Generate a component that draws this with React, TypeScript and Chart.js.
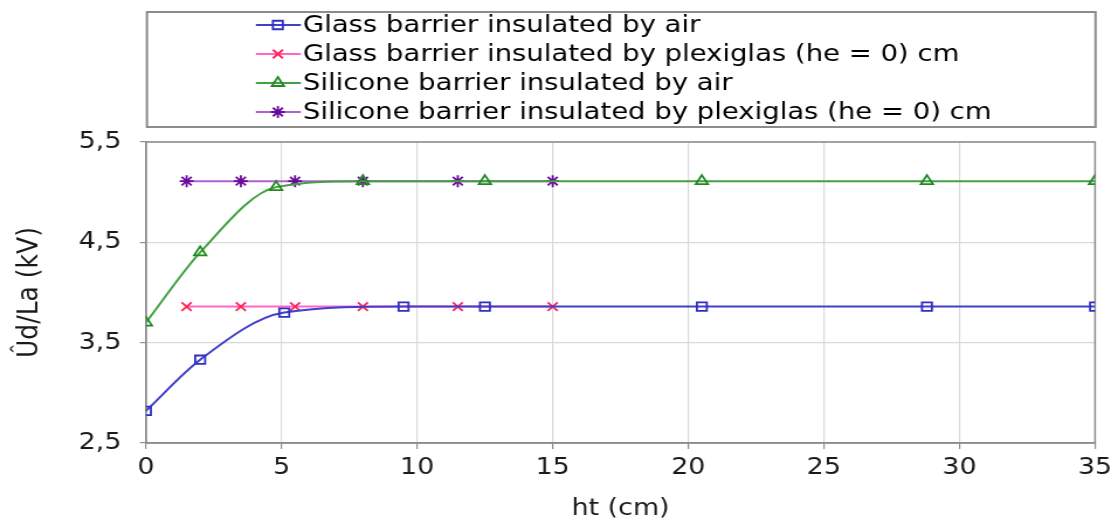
import React, { useEffect, useRef } from 'react';
import { Chart, registerables } from 'chart.js';
import { drawPoint } from 'chart.js/helpers';

Chart.register(...registerables);

// Series (x = ht in cm, y = Ûd/La in kV)
const seriesNames = [
  'Glass barrier insulated by air',
  'Glass barrier insulated by plexiglas (he = 0) cm',
  'Silicone barrier insulated by air',
  'Silicone barrier insulated by plexiglas (he = 0) cm',
];

const glassAirX = [0, 2, 5.1, 9.5, 12.5, 20.5, 28.8, 35];
const glassAirY = [2.82, 3.33, 3.8, 3.86, 3.86, 3.86, 3.86, 3.86];

const glassPlexiX = [1.5, 3.5, 5.5, 8, 11.5, 15];
const glassPlexiY = [3.86, 3.86, 3.86, 3.86, 3.86, 3.86];

const siliconeAirX = [0, 2, 4.8, 8, 12.5, 20.5, 28.8, 35];
const siliconeAirY = [3.7, 4.4, 5.05, 5.11, 5.11, 5.11, 5.11, 5.11];

const siliconePlexiX = [1.5, 3.5, 5.5, 8, 11.5, 15];
const siliconePlexiY = [5.11, 5.11, 5.11, 5.11, 5.11, 5.11];

const yTicks = [2.5, 3.5, 4.5, 5.5];
const xTicks = [0, 5, 10, 15, 20, 25, 30, 35];

// Canvas is laid out narrower and widened by CSS, giving the broad lettering.
const OUT_W = 1118;
const OUT_H = 523;
const STRETCH = 1.17;
const IN_W = Math.round(OUT_W / STRETCH);
const px = (x: number) => x / STRETCH;

const FONT = '"DejaVu Sans", Verdana, sans-serif';
const GRID = '#d9d9d9';
const FRAME = '#8c8c8c';
const TEXT = '#1a1a1a';

const toPoints = (xs: number[], ys: number[]) => xs.map((x, i) => ({ x, y: ys[i] }));

const legendBox = {
  id: 'legendBox',
  afterDraw(chart: any) {
    const ctx = chart.ctx;
    const rows = [25, 54, 83, 112];
    ctx.save();
    ctx.strokeStyle = FRAME;
    ctx.lineWidth = 2;
    const left = px(147);
    const right = px(1096);
    ctx.strokeRect(left, 12, right - left, 115);
    chart.data.datasets.forEach((ds: any, i: number) => {
      const y = rows[i];
      ctx.strokeStyle = ds.borderColor;
      ctx.lineWidth = 2;
      ctx.beginPath();
      ctx.moveTo(px(256), y);
      ctx.lineTo(px(301), y);
      ctx.stroke();
      ctx.strokeStyle = ds.pointBorderColor;
      ctx.fillStyle = 'rgba(255,255,255,0)';
      ctx.lineWidth = ds.pointBorderWidth;
      drawPoint(ctx, { pointStyle: ds.pointStyle, radius: ds.pointRadius, rotation: 0, borderWidth: ds.pointBorderWidth }, px(278), y);
      ctx.fillStyle = '#000';
      ctx.font = `23.5px ${FONT}`;
      ctx.textBaseline = 'middle';
      ctx.textAlign = 'left';
      ctx.fillText(ds.label, px(303), y + 1);
    });
    ctx.restore();
  },
};

const plotFrame = {
  id: 'plotFrame',
  beforeDatasetsDraw(chart: any) {
    const { ctx, chartArea: a } = chart;
    ctx.save();
    ctx.strokeStyle = FRAME;
    ctx.lineWidth = 1.5;
    ctx.strokeRect(a.left, a.top, a.right - a.left, a.bottom - a.top);
    ctx.restore();
  },
};

export default function App() {
  const canvasRef = useRef<HTMLCanvasElement | null>(null);

  useEffect(() => {
    const canvas = canvasRef.current;
    if (!canvas) return;

    const line = (
      label: string,
      data: { x: number; y: number }[],
      lineColor: string,
      markColor: string,
      pointStyle: string,
      radius: number,
    ) => ({
      label,
      data,
      borderColor: lineColor,
      borderWidth: 2,
      pointStyle,
      pointRadius: radius,
      pointBorderColor: markColor,
      pointBackgroundColor: 'rgba(255,255,255,0)',
      pointBorderWidth: 1.8,
      cubicInterpolationMode: 'monotone',
      fill: false,
    });

    const chart = new Chart(canvas, {
      type: 'line',
      data: {
        datasets: [
          line(seriesNames[0], toPoints(glassAirX, glassAirY), '#4040c8', '#3030c0', 'rect', 6),
          line(seriesNames[1], toPoints(glassPlexiX, glassPlexiY), '#ff66cc', '#ff2255', 'crossRot', 6),
          line(seriesNames[2], toPoints(siliconeAirX, siliconeAirY), '#44a044', '#228822', 'triangle', 6),
          line(seriesNames[3], toPoints(siliconePlexiX, siliconePlexiY), '#b060d0', '#6a0a9a', 'star', 6),
        ] as any,
      },
      options: {
        responsive: false,
        maintainAspectRatio: false,
        devicePixelRatio: 1,
        animation: false,
        layout: { padding: { top: 142, left: 0, right: IN_W - px(1097), bottom: 0 } },
        plugins: {
          legend: { display: false },
          tooltip: { enabled: false },
        },
        scales: {
          x: {
            type: 'linear',
            min: 0,
            max: 35,
            afterBuildTicks: (scale: any) => {
              scale.ticks = xTicks.map((v) => ({ value: v }));
            },
            afterFit: (scale: any) => {
              scale.height = 80;
            },
            ticks: {
              color: TEXT,
              font: { family: FONT, size: 23 },
              padding: 5,
              maxRotation: 0,
              callback: (v: any) => String(v),
            },
            grid: { color: GRID, tickColor: FRAME, tickLength: 6, lineWidth: 1.2 },
            border: { color: FRAME, width: 1.5 },
            title: {
              display: true,
              text: 'ht (cm)',
              color: TEXT,
              font: { family: FONT, size: 23 },
              padding: { top: 0, bottom: 0 },
            },
          },
          y: {
            type: 'linear',
            min: 2.5,
            max: 5.5,
            afterBuildTicks: (scale: any) => {
              scale.ticks = yTicks.map((v) => ({ value: v }));
            },
            afterFit: (scale: any) => {
              scale.width = px(146);
            },
            ticks: {
              color: TEXT,
              font: { family: FONT, size: 23 },
              padding: 16,
              callback: (v: any) => Number(v).toFixed(1).replace('.', ','),
            },
            grid: { color: GRID, tickColor: FRAME, tickLength: 5, lineWidth: 1.2 },
            border: { color: FRAME, width: 1.5 },
            title: {
              display: true,
              text: 'Ûd/La (kV)',
              color: TEXT,
              font: { family: FONT, size: 25 },
              padding: { top: 10, bottom: 0 },
            },
          },
        },
      } as any,
      plugins: [plotFrame, legendBox],
    });

    return () => chart.destroy();
  }, []);

  return (
    <div style={{ position: 'fixed', left: 0, top: 0, width: OUT_W, height: OUT_H, background: '#fff' }}>
      <canvas
        ref={canvasRef}
        width={IN_W}
        height={OUT_H}
        style={{ width: `${OUT_W}px`, height: `${OUT_H}px`, display: 'block' }}
      />
    </div>
  );
}
